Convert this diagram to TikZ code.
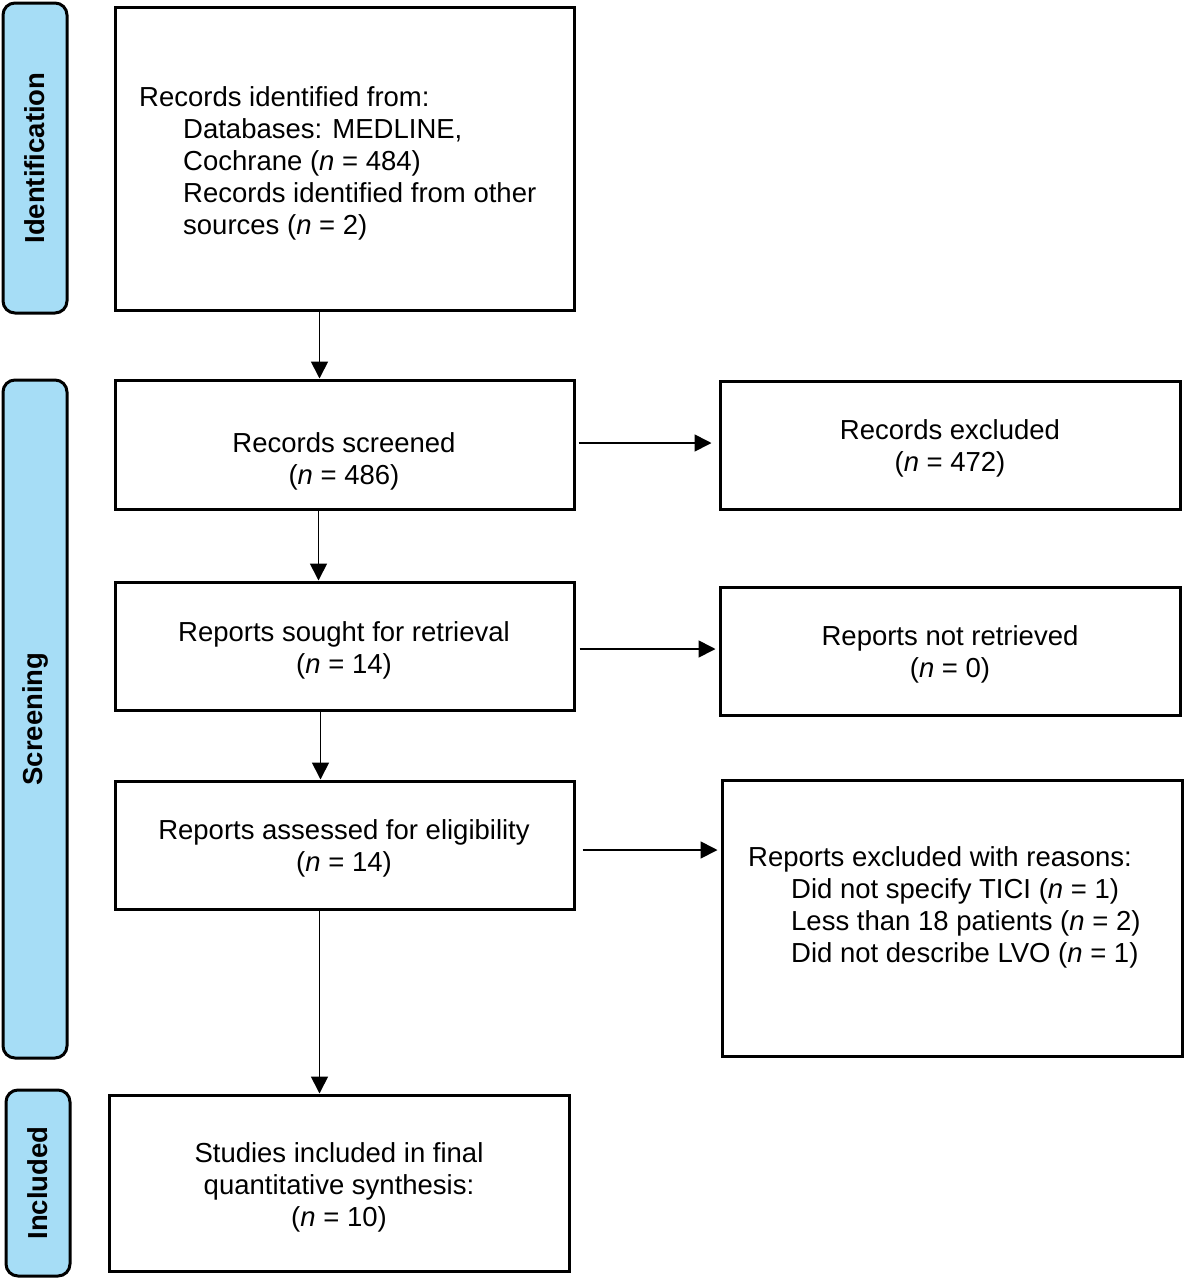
\documentclass[tikz,border=0pt]{standalone}
\usepackage{fontspec}
\setmainfont{Liberation Sans}
\usetikzlibrary{arrows.meta,calc}
\definecolor{barblue}{RGB}{166,221,246}
\begin{document}
\begin{tikzpicture}[x=1pt,y=-1pt,
  font=\fontsize{27.5}{32}\selectfont,
  box/.style={draw=black,line width=3pt,fill=white,inner sep=0pt,rectangle},
  bar/.style={draw=black,line width=3pt,fill=barblue,rounded corners=12pt,inner sep=0pt,rectangle},
  barlabel/.style={rotate=90,font=\fontsize{27.5}{32}\selectfont\bfseries},
  txt/.style={inner sep=0pt,align=center},
  ltxt/.style={inner sep=0pt,align=left,anchor=west},
  arr/.style={line width=1.7pt,-{Triangle[length=17pt,width=17pt]}}]
\useasboundingbox (0,0) rectangle (1185,1280);

% side bars
\node[bar,minimum width=64pt,minimum height=310pt] (idbar) at (35,158) {};
\node[barlabel] (idlab) at (idbar.center) {Identification};
\node[bar,minimum width=64pt,minimum height=678pt] (scbar) at (35,719) {};
\node[barlabel] (sclab) at (scbar.center) {Screening};
\node[bar,minimum width=64pt,minimum height=186pt] (inbar) at (38,1183) {};
\node[barlabel] (inlab) at (inbar.center) {Included};

% main boxes
\node[box,minimum width=459pt,minimum height=303pt] (b1) at (344.5,158.5) {};
\node[ltxt] (t1) at (139,163) {Records identified from:\\
\hspace*{44pt}Databases: MEDLINE,\\
\hspace*{44pt}Cochrane (\textit{n} = 484)\\
\hspace*{44pt}Records identified from other\\
\hspace*{44pt}sources (\textit{n} = 2)};

\node[box,minimum width=459pt,minimum height=129pt] (b2) at (344.5,444.5) {};
\node[txt] (t2) at (344,461) {Records screened\\(\textit{n} = 486)};

\node[box,minimum width=459pt,minimum height=128pt] (b3) at (344.5,646) {};
\node[txt] (t3) at (344,650) {Reports sought for retrieval\\(\textit{n} = 14)};

\node[box,minimum width=459pt,minimum height=128pt] (b4) at (344.5,845) {};
\node[txt] (t4) at (344,848.5) {Reports assessed for eligibility\\(\textit{n} = 14)};

\node[box,minimum width=460pt,minimum height=176pt] (b5) at (339,1183) {};
\node[txt] (t5) at (339,1187) {Studies included in final\\quantitative synthesis:\\(\textit{n} = 10)};

% side boxes
\node[box,minimum width=460pt,minimum height=128pt] (e1) at (950,445) {};
\node[txt] (u1) at (950,448.5) {Records excluded\\(\textit{n} = 472)};

\node[box,minimum width=460pt,minimum height=128pt] (e2) at (950,651) {};
\node[txt] (u2) at (950,654) {Reports not retrieved\\(\textit{n} = 0)};

\node[box,minimum width=460pt,minimum height=276pt] (e3) at (952,918) {};
\node[ltxt] (u3) at (748,907) {Reports excluded with reasons:\\
\hspace*{43pt}Did not specify TICI (\textit{n} = 1)\\
\hspace*{43pt}Less than 18 patients (\textit{n} = 2)\\
\hspace*{43pt}Did not describe LVO (\textit{n} = 1)};

% vertical arrows
\draw[arr] ([xshift=-25pt]b1.south) -- ([xshift=-25pt]b1.south |- b2.north);
\draw[arr] ([xshift=-26pt]b2.south) -- ([xshift=-26pt]b2.south |- b3.north);
\draw[arr] ([xshift=-24pt]b3.south) -- ([xshift=-24pt]b3.south |- b4.north);
\draw[arr] ([xshift=-25pt]b4.south) -- ([xshift=-25pt]b4.south |- b5.north);

% horizontal arrows
\draw[arr,shorten >=7pt] ([xshift=3pt,yshift=1.5pt]b2.east) -- ([yshift=1.5pt]e1.west |- b2.east);
\draw[arr,shorten >=3pt] ([xshift=4pt,yshift=-3pt]b3.east) -- ([yshift=-3pt]e2.west |- b3.east);
\draw[arr,shorten >=3pt] ([xshift=7pt,yshift=-5pt]b4.east) -- ([yshift=-5pt]e3.west |- b4.east);
\end{tikzpicture}
\end{document}
